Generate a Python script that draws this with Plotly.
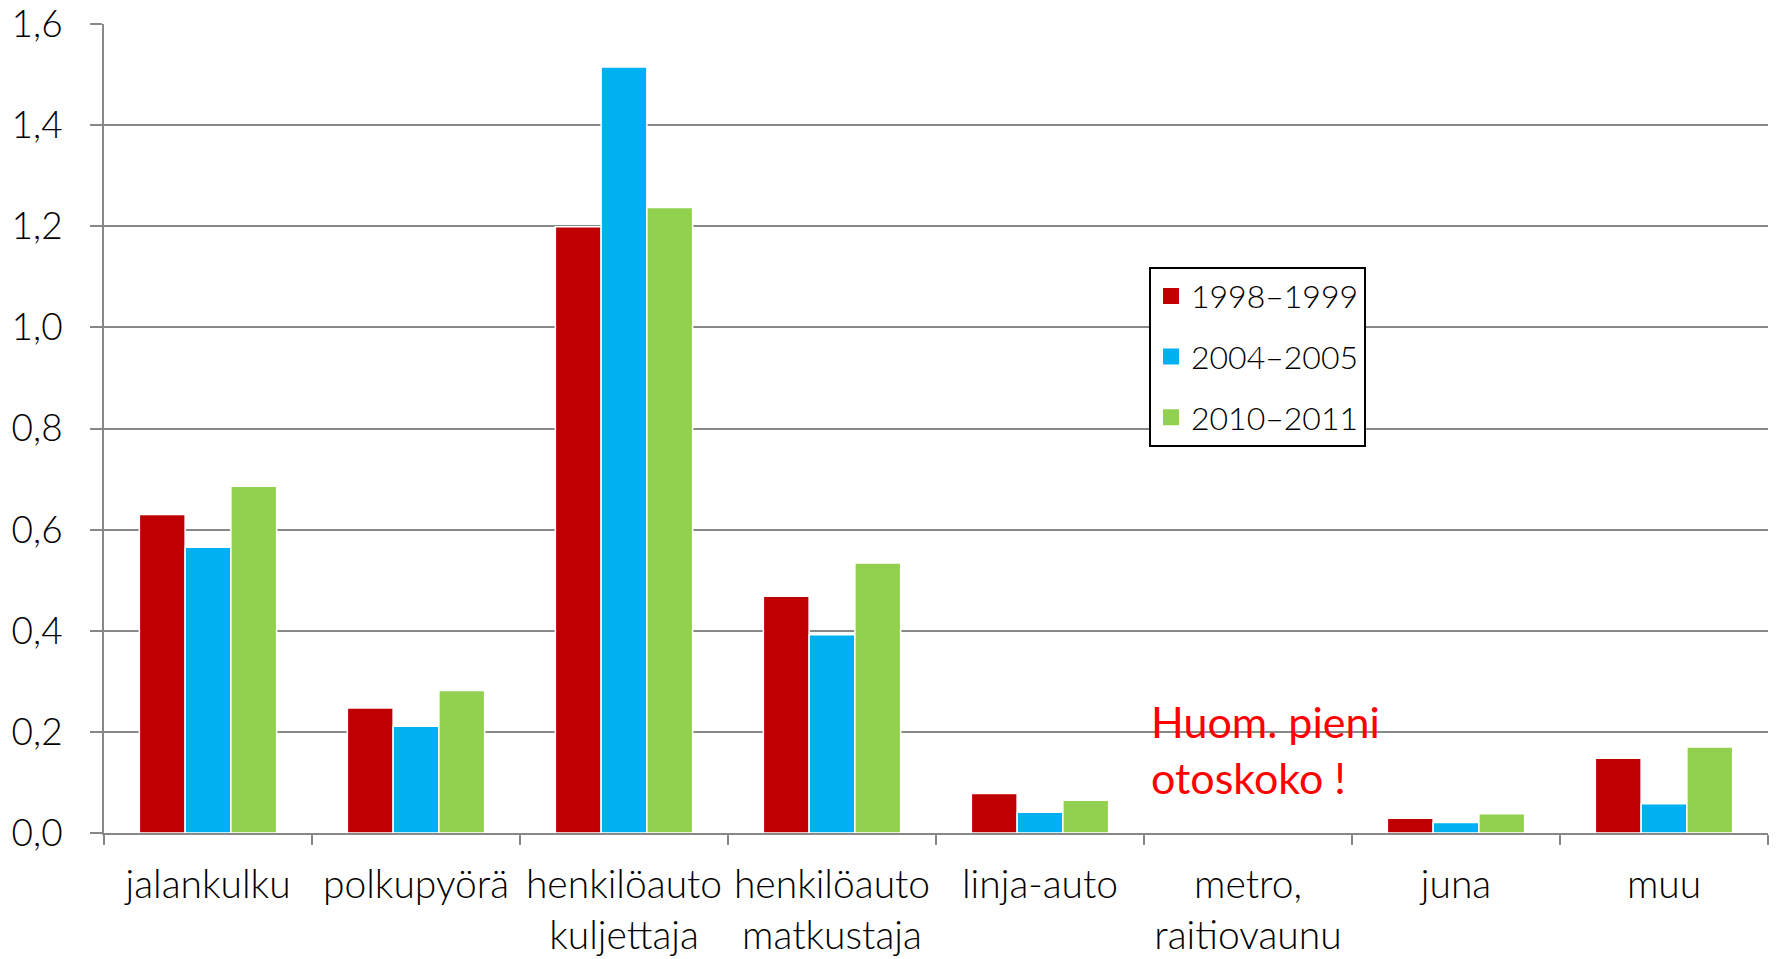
import plotly.graph_objects as go

categories = ["jalankulku", "polkupyörä", "henkilöauto<br>kuljettaja", "henkilöauto<br>matkustaja",
              "linja-auto", "metro,<br>raitiovaunu", "juna", "muu"]
series_names = ["1998–1999", "2004–2005", "2010–2011"]
v_1998 = [0.63, 0.247, 1.199, 0.468, 0.078, None, 0.029, 0.148]
v_2004 = [0.565, 0.211, 1.515, 0.392, 0.041, None, 0.021, 0.058]
v_2010 = [0.686, 0.282, 1.237, 0.534, 0.065, None, 0.038, 0.170]
colors = ["#c00000", "#00b0f0", "#92d050"]
y_ticks = [0, 0.2, 0.4, 0.6, 0.8, 1.0, 1.2, 1.4, 1.6]
y_labels = ["0,0", "0,2", "0,4", "0,6", "0,8", "1,0", "1,2", "1,4", "1,6"]

font_family = "Lato"

fig = go.Figure()
for name, vals, col in zip(series_names, [v_1998, v_2004, v_2010], colors):
    fig.add_trace(go.Bar(
        x=categories, y=vals, name=name, showlegend=False,
        marker=dict(color=col, line=dict(color="white", width=1.5)),
    ))
    # legend entry with a bigger square symbol
    fig.add_trace(go.Scatter(
        x=[None], y=[None], mode="markers", name=name, legendgroup=name,
        marker=dict(symbol="square", size=17, color=col),
    ))

fig.add_annotation(
    text="Huom. pieni<br>otoskoko !", xref="paper", yref="paper",
    x=0.628, y=0.172, xanchor="left", yanchor="top", align="left",
    showarrow=False, font=dict(family=font_family, size=43, color="#ff0000", weight=400),
)

fig.update_layout(
    width=1777, height=959,
    margin=dict(l=104, r=9, t=24, b=126),
    paper_bgcolor="white", plot_bgcolor="white",
    barmode="group", bargap=0.34, bargroupgap=0,
    font=dict(family=font_family, size=37, color="#000000", weight=300),
    legend=dict(
        x=0.628, y=0.70, xanchor="left", yanchor="top",
        bordercolor="black", borderwidth=2, bgcolor="white",
        font=dict(size=32, weight=300), tracegroupgap=16, itemwidth=30,
    ),
    xaxis=dict(
        showline=True, linecolor="#888888", linewidth=2,
        ticks="outside", tickson="boundaries", ticklen=10, tickcolor="#888888", tickwidth=2,
        ticklabelstandoff=16, tickfont=dict(size=39), tickangle=0, automargin=False,
    ),
    yaxis=dict(
        range=[0, 1.6], tickvals=y_ticks, ticktext=y_labels,
        showline=True, linecolor="#888888", linewidth=2,
        showgrid=True, gridcolor="#888888", gridwidth=2,
        ticks="outside", ticklen=12, tickcolor="#888888", tickwidth=2,
        ticklabelstandoff=20, zeroline=False, automargin=False, ticklabeloverflow="allow",
    ),
)

# drop the default page margin so the figure fills the window exactly
fig.write_html("out.html", config={"displayModeBar": False},
               post_script="document.body.style.margin='0';")
